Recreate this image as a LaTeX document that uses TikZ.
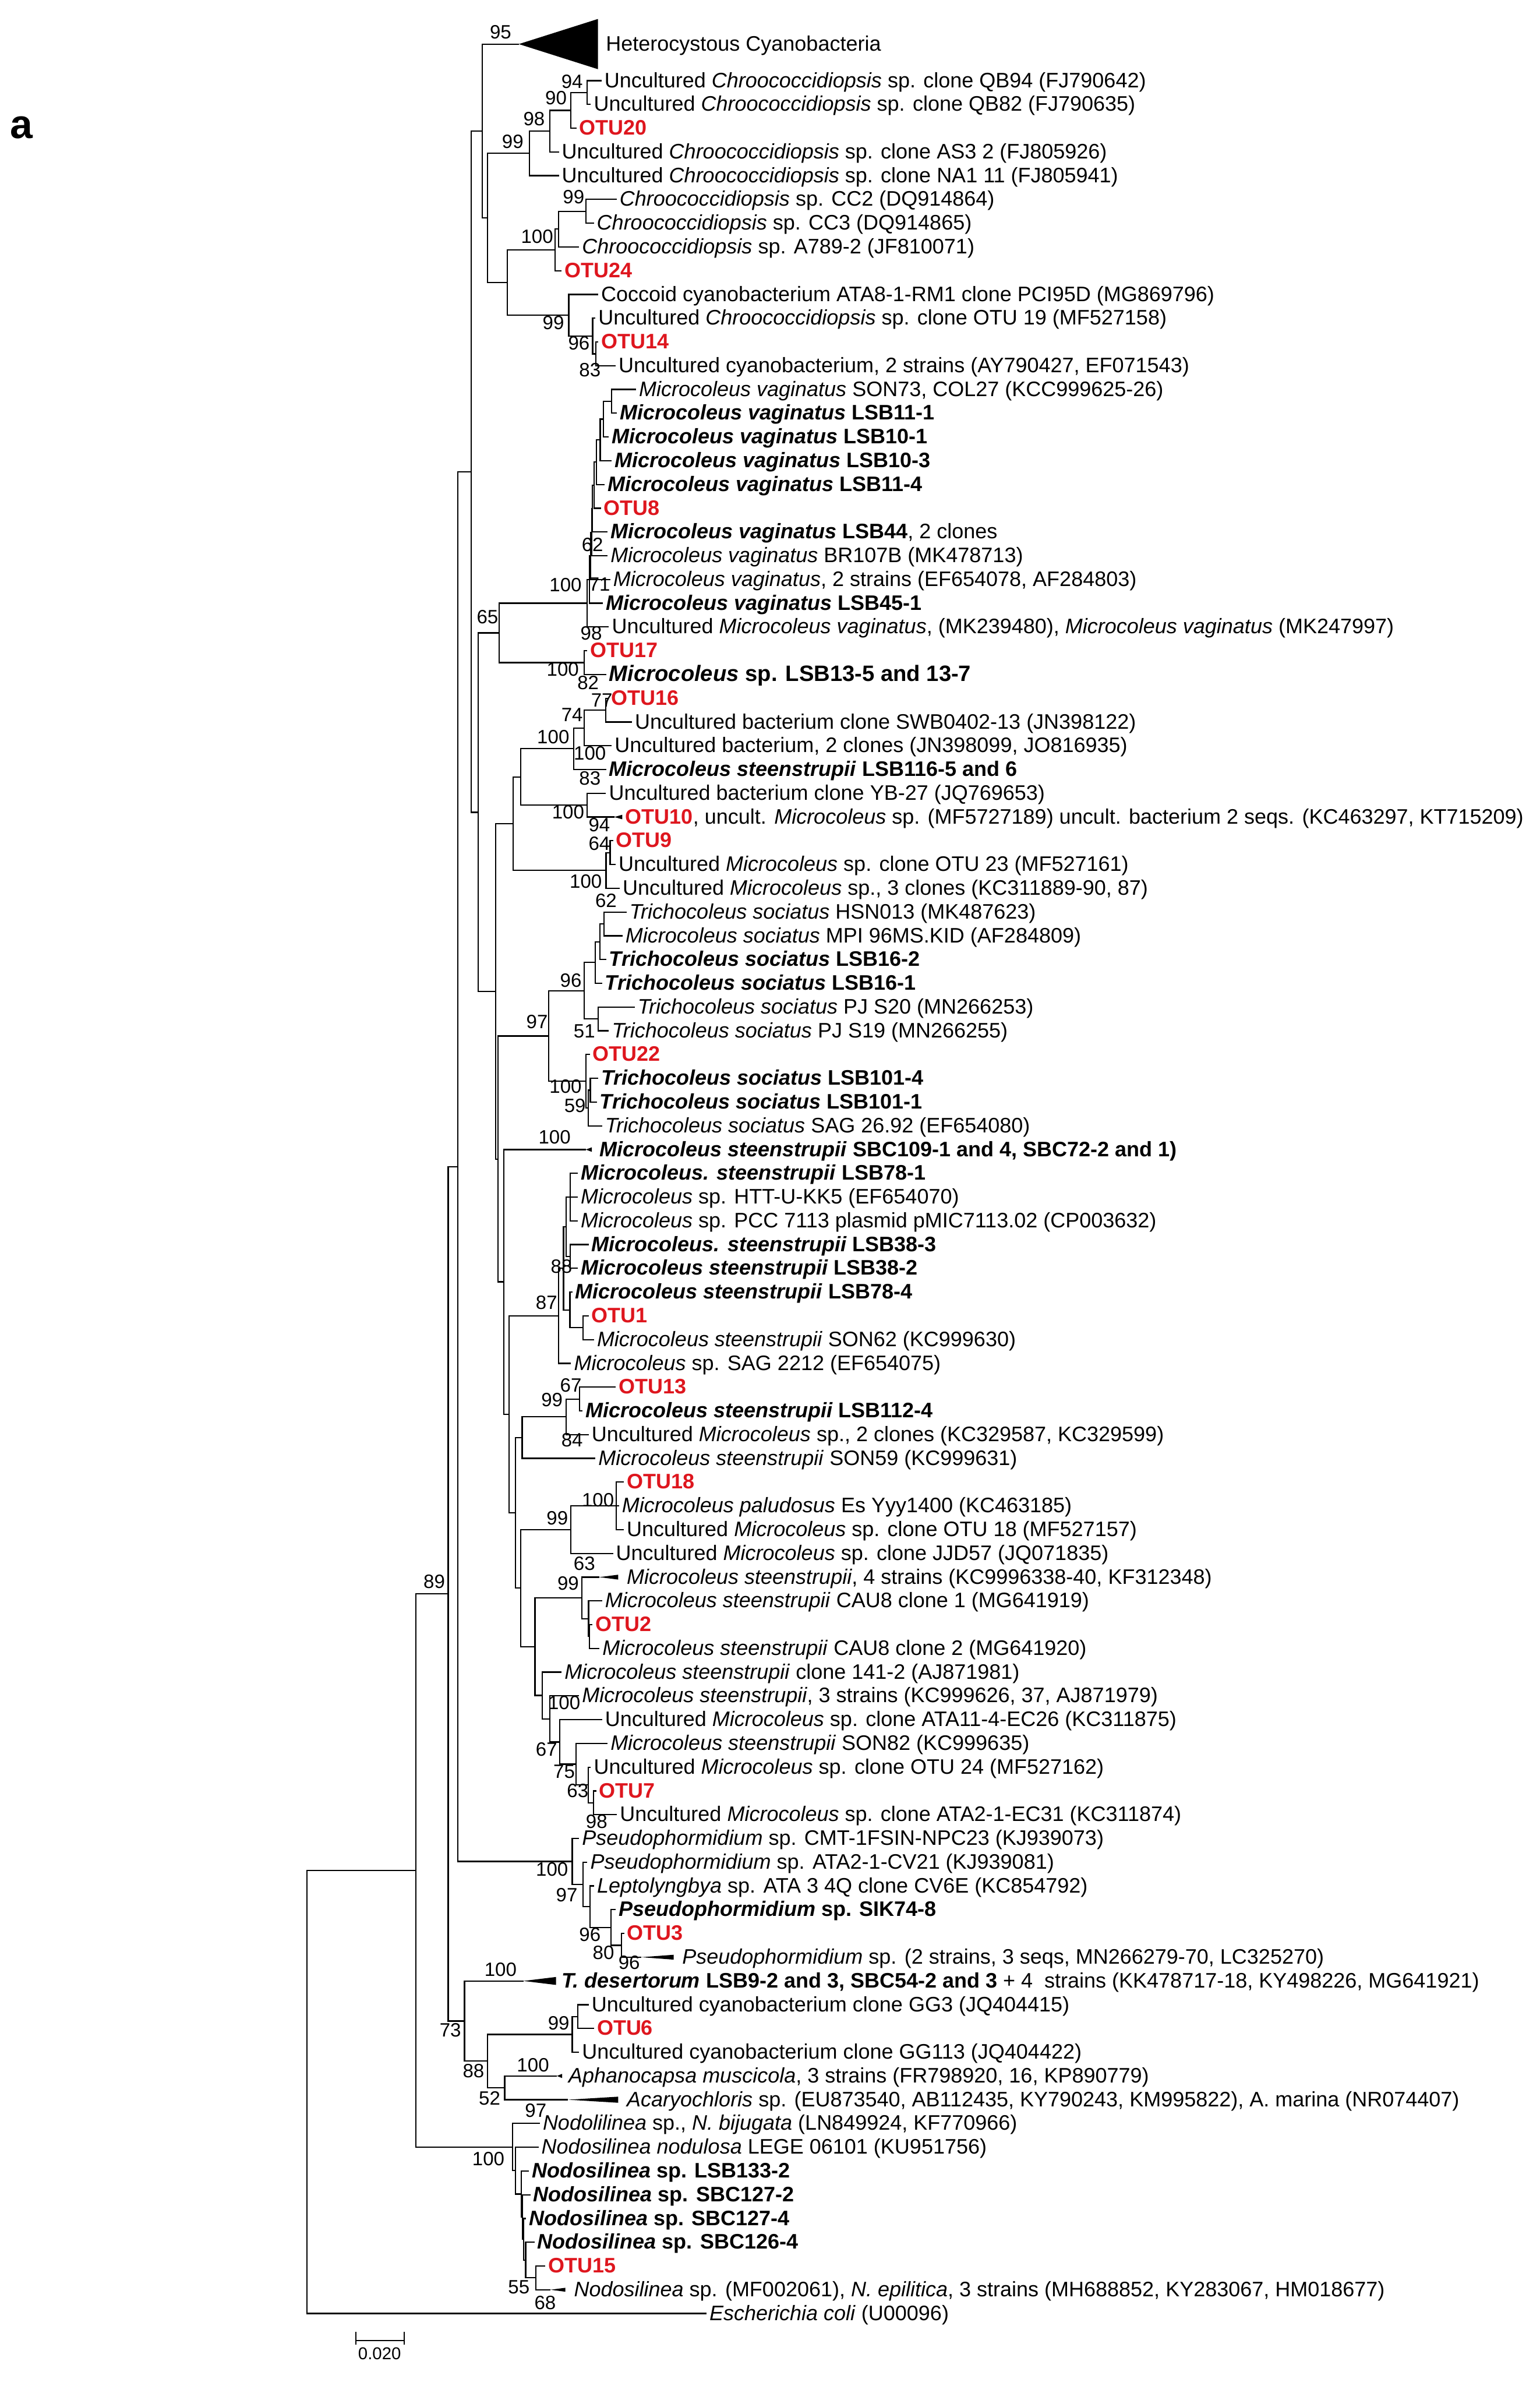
\documentclass[tikz,border=0pt]{standalone}
\usepackage{fontspec}
\setmainfont{Liberation Sans}
\definecolor{otured}{RGB}{222,22,30}
% y position of a leaf row
\newcommand{\ry}[1]{53+15.61*(#1)}

\begin{document}
\begin{tikzpicture}[x=0.025cm, y=-0.025cm,
  br/.style={line width=0.6pt},
  tl/.style={br, shorten >=1.2pt},
  lf/.style={anchor=west, inner sep=0pt, text height=6.8pt, text depth=0.5pt, font=\fontsize{9.8}{11}\selectfont},
  otu/.style={lf, text=otured, font=\fontsize{9.8}{11}\selectfont\bfseries},
  bs/.style={inner sep=0pt, font=\fontsize{9}{10}\selectfont}]
  \useasboundingbox (0,0) rectangle (1012,1568);
  \node[font=\fontsize{19}{20}\selectfont\bfseries] (lbla) at (14,84) {a};

  % internal nodes
  \coordinate (root) at (201.8,{\ry{84.67}});
  \coordinate (V) at (273.3,{\ry{75.35}});
  \coordinate (T) at (294.6,{\ry{63.70}});
  \coordinate (R) at (300.9,{\ry{45.72}});
  \coordinate (P) at (309.7,{\ry{16.46}});
  \coordinate (B) at (317,{\ry{2.12}});
  \coordinate (C) at (320.4,{\ry{5.78}});
  \coordinate (D) at (348,{\ry{3.0625}});
  \coordinate (E) at (361.5,{\ry{2.125}});
  \coordinate (F) at (375.2,{\ry{1.25}});
  \coordinate (G) at (385.9,{\ry{0.5}});
  \coordinate (N) at (333.4,{\ry{8.5}});
  \coordinate (J) at (364.9,{\ry{7.125}});
  \coordinate (I) at (367.2,{\ry{6.25}});
  \coordinate (H) at (385,{\ry{5.5}});
  \coordinate (M) at (373.8,{\ry{9.875}});
  \coordinate (K) at (389.5,{\ry{10.75}});
  \coordinate (L) at (391.5,{\ry{11.5}});
  \coordinate (Q) at (314.4,{\ry{30.80}});
  \coordinate (W) at (328.1,{\ry{23.25}});
  \coordinate (X) at (385.9,{\ry{22.0}});
  \coordinate (L22) at (387.5,{\ry{21.0}});
  \coordinate (L21) at (388.2,{\ry{20.0}});
  \coordinate (L20) at (388.8,{\ry{19.01}});
  \coordinate (L19) at (389.4,{\ry{18.02}});
  \coordinate (L18) at (390.5,{\ry{17.03}});
  \coordinate (L17) at (392,{\ry{16.06}});
  \coordinate (L16) at (394.5,{\ry{15.125}});
  \coordinate (L15) at (396.6,{\ry{14.25}});
  \coordinate (L14) at (401.9,{\ry{13.5}});
  \coordinate (Y) at (384.1,{\ry{24.5}});
  \coordinate (AH) at (325.8,{\ry{38.34}});
  \coordinate (AE) at (337.3,{\ry{31.28}});
  \coordinate (AC) at (342.3,{\ry{29.31}});
  \coordinate (AB) at (377,{\ry{28.125}});
  \coordinate (AA) at (384.1,{\ry{27.25}});
  \coordinate (Z) at (398,{\ry{26.5}});
  \coordinate (AD) at (385.9,{\ry{30.5}});
  \coordinate (AF) at (398.3,{\ry{33.25}});
  \coordinate (AG) at (401,{\ry{32.5}});
  \coordinate (AI) at (327.3,{\ry{45.40}});
  \coordinate (AJ) at (360.6,{\ry{40.22}});
  \coordinate (AL) at (384.1,{\ry{38.31}});
  \coordinate (AN) at (391.2,{\ry{37.125}});
  \coordinate (AP) at (394.2,{\ry{36.25}});
  \coordinate (AQ) at (396.9,{\ry{35.5}});
  \coordinate (AO) at (393,{\ry{39.5}});
  \coordinate (AM) at (385,{\ry{42.125}});
  \coordinate (AR) at (386.5,{\ry{43.25}});
  \coordinate (AS) at (388,{\ry{42.5}});
  \coordinate (AK) at (331.1,{\ry{50.57}});
  \coordinate (AT) at (334.6,{\ry{56.15}});
  \coordinate (AZ) at (367.2,{\ry{52}});
  \coordinate (BE) at (370.4,{\ry{50}});
  \coordinate (BF) at (372.2,{\ry{48.25}});
  \coordinate (BA) at (374.8,{\ry{47}});
  \coordinate (BB) at (374.8,{\ry{49.5}});
  \coordinate (BC) at (374.6,{\ry{51.75}});
  \coordinate (BD) at (383.2,{\ry{52.5}});
  \coordinate (AX) at (338.7,{\ry{60.29}});
  \coordinate (AU) at (343.2,{\ry{57.125}});
  \coordinate (AV) at (372.1,{\ry{56.25}});
  \coordinate (AW) at (381,{\ry{55.5}});
  \coordinate (AY) at (342.3,{\ry{63.46}});
  \coordinate (BG) at (375.2,{\ry{61}});
  \coordinate (BH) at (405,{\ry{60}});
  \coordinate (BL) at (351.6,{\ry{65.93}});
  \coordinate (BK) at (382.3,{\ry{63.875}});
  \coordinate (BI) at (386.8,{\ry{64.75}});
  \coordinate (BJ) at (387.5,{\ry{65.5}});
  \coordinate (BN) at (356.5,{\ry{67.98}});
  \coordinate (BO) at (361.3,{\ry{68.97}});
  \coordinate (BP) at (368,{\ry{69.94}});
  \coordinate (BQ) at (378.7,{\ry{70.875}});
  \coordinate (BR) at (386.5,{\ry{71.75}});
  \coordinate (BS) at (390,{\ry{72.5}});
  \coordinate (S) at (376.1,{\ry{74.97}});
  \coordinate (BT) at (383.2,{\ry{75.94}});
  \coordinate (BU) at (387.7,{\ry{76.875}});
  \coordinate (BV) at (401.5,{\ry{77.75}});
  \coordinate (BW) at (408.5,{\ry{78.5}});
  \coordinate (U) at (305.3,{\ry{81.69}});
  \coordinate (BX) at (320.4,{\ry{83.375}});
  \coordinate (BY) at (376.1,{\ry{82.25}});
  \coordinate (CA) at (379.7,{\ry{81.5}});
  \coordinate (BZ) at (331.7,{\ry{84.5}});
  \coordinate (CB) at (337,{\ry{86.99}});
  \coordinate (CC) at (338.7,{\ry{87.98}});
  \coordinate (CD) at (342.5,{\ry{88.97}});
  \coordinate (CF) at (343.3,{\ry{89.94}});
  \coordinate (CG) at (344,{\ry{90.875}});
  \coordinate (CH) at (345.5,{\ry{91.75}});
  \coordinate (CE) at (352.1,{\ry{92.5}});

  % collapsed clades
  \coordinate (hc) at (341,{\ry{-1.54}});
  \coordinate (w31) at (403.7,{\ry{31}});
  \coordinate (w45) at (385,{\ry{45}});
  \coordinate (w63) at (393.9,{\ry{63}});
  \coordinate (w79) at (421.5,{\ry{79}});
  \coordinate (w80) at (344,{\ry{80}});
  \coordinate (w84) at (366,{\ry{84}});
  \coordinate (w85) at (373.4,{\ry{85}});
  \coordinate (w93) at (361.8,{\ry{93}});
  \fill (hc) -- ++(52,-16.5) -- ++(0,33) -- cycle;
  \fill (w31) -- ++(5.3,-1.5) -- ++(0,3) -- cycle;
  \fill (w45) -- ++(4,-1.5) -- ++(0,3) -- cycle;
  \fill (w63) -- ++(12.4,-1.6) -- ++(0,3.2) -- cycle;
  \fill (w79) -- ++(21.3,-1.6) -- ++(0,3.2) -- cycle;
  \fill (w80) -- ++(21.4,-2.6) -- ++(0,5.2) -- cycle;
  \fill (w84) -- ++(3.5,-1.4) -- ++(0,2.8) -- cycle;
  \fill (w85) -- ++(32.9,-2) -- ++(0,4) -- cycle;
  \fill (w93) -- ++(9.8,-1.3) -- ++(0,2.6) -- cycle;

  % leaves
  \node[lf] (thc) at (398,{\ry{-1.54}}) {Heterocystous Cyanobacteria};
  \node[lf] (t00) at (397,{\ry{0}}) {Uncultured \textit{Chroococcidiopsis} sp. clone QB94 (FJ790642)};
  \node[lf] (t01) at (390,{\ry{1}}) {Uncultured \textit{Chroococcidiopsis} sp. clone QB82 (FJ790635)};
  \node[otu] (t02) at (380.5,{\ry{2}}) {OTU20};
  \node[lf] (t03) at (369,{\ry{3}}) {Uncultured \textit{Chroococcidiopsis} sp. clone AS3 2 (FJ805926)};
  \node[lf] (t04) at (369,{\ry{4}}) {Uncultured \textit{Chroococcidiopsis} sp. clone NA1 11 (FJ805941)};
  \node[lf] (t05) at (407,{\ry{5}}) {\textit{Chroococcidiopsis} sp. CC2 (DQ914864)};
  \node[lf] (t06) at (392,{\ry{6}}) {\textit{Chroococcidiopsis} sp. CC3 (DQ914865)};
  \node[lf] (t07) at (382.3,{\ry{7}}) {\textit{Chroococcidiopsis} sp. A789-2 (JF810071)};
  \node[otu] (t08) at (370.8,{\ry{8}}) {OTU24};
  \node[lf] (t09) at (394.8,{\ry{9}}) {Coccoid cyanobacterium ATA8-1-RM1 clone PCI95D (MG869796)};
  \node[lf] (t10) at (393,{\ry{10}}) {Uncultured \textit{Chroococcidiopsis} sp. clone OTU 19 (MF527158)};
  \node[otu] (t11) at (395,{\ry{11}}) {OTU14};
  \node[lf] (t12) at (406.3,{\ry{12}}) {Uncultured cyanobacterium, 2 strains (AY790427, EF071543)};
  \node[lf] (t13) at (419.7,{\ry{13}}) {\textit{Microcoleus vaginatus} SON73, COL27 (KCC999625-26)};
  \node[lf] (t14) at (407.2,{\ry{14}}) {\textbf{\textit{Microcoleus vaginatus} LSB11-1}};
  \node[lf] (t15) at (401.9,{\ry{15}}) {\textbf{\textit{Microcoleus vaginatus} LSB10-1}};
  \node[lf] (t16) at (403.7,{\ry{16}}) {\textbf{\textit{Microcoleus vaginatus} LSB10-3}};
  \node[lf] (t17) at (399.2,{\ry{17}}) {\textbf{\textit{Microcoleus vaginatus} LSB11-4}};
  \node[otu] (t18) at (396.6,{\ry{18}}) {OTU8};
  \node[lf] (t19) at (401,{\ry{19}}) {\textbf{\textit{Microcoleus vaginatus} LSB44}, 2 clones};
  \node[lf] (t20) at (401,{\ry{20}}) {\textit{Microcoleus vaginatus} BR107B (MK478713)};
  \node[lf] (t21) at (402.8,{\ry{21}}) {\textit{Microcoleus vaginatus}, 2 strains (EF654078, AF284803)};
  \node[lf] (t22) at (398,{\ry{22}}) {\textbf{\textit{Microcoleus vaginatus} LSB45-1}};
  \node[lf] (t23) at (401.9,{\ry{23}}) {Uncultured \textit{Microcoleus vaginatus}, (MK239480), \textit{Microcoleus vaginatus} (MK247997)};
  \node[otu] (t24) at (387.7,{\ry{24}}) {OTU17};
  \node[lf, font=\fontsize{10.4}{12}\selectfont] (t25) at (400.1,{\ry{25}}) {\textbf{\textit{Microcoleus} sp. LSB13-5 and 13-7}};
  \node[otu] (t26) at (401.5,{\ry{26}}) {OTU16};
  \node[lf] (t27) at (417,{\ry{27}}) {Uncultured bacterium clone SWB0402-13 (JN398122)};
  \node[lf] (t28) at (403.7,{\ry{28}}) {Uncultured bacterium, 2 clones (JN398099, JO816935)};
  \node[lf] (t29) at (400.1,{\ry{29}}) {\textbf{\textit{Microcoleus steenstrupii} LSB116-5 and 6}};
  \node[lf] (t30) at (400,{\ry{30}}) {Uncultured bacterium clone YB-27 (JQ769653)};
  \node[lf] (t31) at (410.8,{\ry{31}}) {\textcolor{otured}{\bfseries OTU10}, uncult. \textit{Microcoleus} sp. (MF5727189) uncult. bacterium 2 seqs. (KC463297, KT715209)};
  \node[otu] (t32) at (404.6,{\ry{32}}) {OTU9};
  \node[lf] (t33) at (406.3,{\ry{33}}) {Uncultured \textit{Microcoleus} sp. clone OTU 23 (MF527161)};
  \node[lf] (t34) at (409,{\ry{34}}) {Uncultured \textit{Microcoleus} sp., 3 clones (KC311889-90, 87)};
  \node[lf] (t35) at (413.5,{\ry{35}}) {\textit{Trichocoleus sociatus} HSN013 (MK487623)};
  \node[lf] (t36) at (410.8,{\ry{36}}) {\textit{Microcoleus sociatus} MPI 96MS.KID (AF284809)};
  \node[lf] (t37) at (400.1,{\ry{37}}) {\textbf{\textit{Trichocoleus sociatus} LSB16-2}};
  \node[lf] (t38) at (397.4,{\ry{38}}) {\textbf{\textit{Trichocoleus sociatus} LSB16-1}};
  \node[lf] (t39) at (418.8,{\ry{39}}) {\textit{Trichocoleus sociatus} PJ S20 (MN266253)};
  \node[lf] (t40) at (401.9,{\ry{40}}) {\textit{Trichocoleus sociatus} PJ S19 (MN266255)};
  \node[otu] (t41) at (389.4,{\ry{41}}) {OTU22};
  \node[lf] (t42) at (394.8,{\ry{42}}) {\textbf{\textit{Trichocoleus sociatus} LSB101-4}};
  \node[lf] (t43) at (393.9,{\ry{43}}) {\textbf{\textit{Trichocoleus sociatus} LSB101-1}};
  \node[lf] (t44) at (397.4,{\ry{44}}) {\textit{Trichocoleus sociatus} SAG 26.92 (EF654080)};
  \node[lf] (t45) at (393.9,{\ry{45}}) {\textbf{\textit{Microcoleus steenstrupii} SBC109-1 and 4, SBC72-2 and 1)}};
  \node[lf] (t46) at (381.4,{\ry{46}}) {\textbf{\textit{Microcoleus. steenstrupii} LSB78-1}};
  \node[lf] (t47) at (381.4,{\ry{47}}) {\textit{Microcoleus} sp. HTT-U-KK5 (EF654070)};
  \node[lf] (t48) at (381.4,{\ry{48}}) {\textit{Microcoleus} sp. PCC 7113 plasmid pMIC7113.02 (CP003632)};
  \node[lf] (t49) at (388.6,{\ry{49}}) {\textbf{\textit{Microcoleus. steenstrupii} LSB38-3}};
  \node[lf] (t50) at (381.4,{\ry{50}}) {\textbf{\textit{Microcoleus steenstrupii} LSB38-2}};
  \node[lf] (t51) at (377.9,{\ry{51}}) {\textbf{\textit{Microcoleus steenstrupii} LSB78-4}};
  \node[otu] (t52) at (388.6,{\ry{52}}) {OTU1};
  \node[lf] (t53) at (392.1,{\ry{53}}) {\textit{Microcoleus steenstrupii} SON62 (KC999630)};
  \node[lf] (t54) at (377,{\ry{54}}) {\textit{Microcoleus} sp. SAG 2212 (EF654075)};
  \node[otu] (t55) at (406.3,{\ry{55}}) {OTU13};
  \node[lf] (t56) at (384.5,{\ry{56}}) {\textbf{\textit{Microcoleus steenstrupii} LSB112-4}};
  \node[lf] (t57) at (388.6,{\ry{57}}) {Uncultured \textit{Microcoleus} sp., 2 clones (KC329587, KC329599)};
  \node[lf] (t58) at (393,{\ry{58}}) {\textit{Microcoleus steenstrupii} SON59 (KC999631)};
  \node[otu] (t59) at (411.7,{\ry{59}}) {OTU18};
  \node[lf] (t60) at (408.5,{\ry{60}}) {\textit{Microcoleus paludosus} Es Yyy1400 (KC463185)};
  \node[lf] (t61) at (411.7,{\ry{61}}) {Uncultured \textit{Microcoleus} sp. clone OTU 18 (MF527157)};
  \node[lf] (t62) at (404.6,{\ry{62}}) {Uncultured \textit{Microcoleus} sp. clone JJD57 (JQ071835)};
  \node[lf] (t63) at (411.7,{\ry{63}}) {\textit{Microcoleus steenstrupii}, 4 strains (KC9996338-40, KF312348)};
  \node[lf] (t64) at (397.4,{\ry{64}}) {\textit{Microcoleus steenstrupii} CAU8 clone 1 (MG641919)};
  \node[otu] (t65) at (391,{\ry{65}}) {OTU2};
  \node[lf] (t66) at (395.7,{\ry{66}}) {\textit{Microcoleus steenstrupii} CAU8 clone 2 (MG641920)};
  \node[lf] (t67) at (370.8,{\ry{67}}) {\textit{Microcoleus steenstrupii} clone 141-2 (AJ871981)};
  \node[lf] (t68) at (382.3,{\ry{68}}) {\textit{Microcoleus steenstrupii}, 3 strains (KC999626, 37, AJ871979)};
  \node[lf] (t69) at (397.4,{\ry{69}}) {Uncultured \textit{Microcoleus} sp. clone ATA11-4-EC26 (KC311875)};
  \node[lf] (t70) at (401,{\ry{70}}) {\textit{Microcoleus steenstrupii} SON82 (KC999635)};
  \node[lf] (t71) at (390,{\ry{71}}) {Uncultured \textit{Microcoleus} sp. clone OTU 24 (MF527162)};
  \node[otu] (t72) at (393.5,{\ry{72}}) {OTU7};
  \node[lf] (t73) at (407.2,{\ry{73}}) {Uncultured \textit{Microcoleus} sp. clone ATA2-1-EC31 (KC311874)};
  \node[lf] (t74) at (382.3,{\ry{74}}) {\textit{Pseudophormidium} sp. CMT-1FSIN-NPC23 (KJ939073)};
  \node[lf] (t75) at (387.7,{\ry{75}}) {\textit{Pseudophormidium} sp. ATA2-1-CV21 (KJ939081)};
  \node[lf] (t76) at (392.1,{\ry{76}}) {\textit{Leptolyngbya} sp. ATA 3 4Q clone CV6E (KC854792)};
  \node[lf] (t77) at (406.3,{\ry{77}}) {\textbf{\textit{Pseudophormidium} sp. SIK74-8}};
  \node[otu] (t78) at (412,{\ry{78}}) {OTU3};
  \node[lf] (t79) at (448.1,{\ry{79}}) {\textit{Pseudophormidium} sp. (2 strains, 3 seqs, MN266279-70, LC325270)};
  \node[lf] (t80) at (369,{\ry{80}}) {\textbf{\textit{T. desertorum} LSB9-2 and 3, SBC54-2 and 3} + 4\ \ strains (KK478717-18, KY498226, MG641921)};
  \node[lf] (t81) at (388.6,{\ry{81}}) {Uncultured cyanobacterium clone GG3 (JQ404415)};
  \node[otu] (t82) at (392.1,{\ry{82}}) {OTU6};
  \node[lf] (t83) at (382.3,{\ry{83}}) {Uncultured cyanobacterium clone GG113 (JQ404422)};
  \node[lf] (t84) at (373.4,{\ry{84}}) {\textit{Aphanocapsa muscicola}, 3 strains (FR798920, 16, KP890779)};
  \node[lf] (t85) at (411.7,{\ry{85}}) {\textit{Acaryochloris} sp. (EU873540, AB112435, KY790243, KM995822), A. marina (NR074407)};
  \node[lf] (t86) at (356.5,{\ry{86}}) {\textit{Nodolilinea} sp., \textit{N. bijugata} (LN849924, KF770966)};
  \node[lf] (t87) at (355.6,{\ry{87}}) {\textit{Nodosilinea nodulosa} LEGE 06101 (KU951756)};
  \node[lf] (t88) at (349.4,{\ry{88}}) {\textbf{\textit{Nodosilinea} sp. LSB133-2}};
  \node[lf] (t89) at (350.3,{\ry{89}}) {\textbf{\textit{Nodosilinea} sp. SBC127-2}};
  \node[lf] (t90) at (347.5,{\ry{90}}) {\textbf{\textit{Nodosilinea} sp. SBC127-4}};
  \node[lf] (t91) at (353,{\ry{91}}) {\textbf{\textit{Nodosilinea} sp. SBC126-4}};
  \node[otu] (t92) at (360.1,{\ry{92}}) {OTU15};
  \node[lf] (t93) at (377,{\ry{93}}) {\textit{Nodosilinea} sp. (MF002061), \textit{N. epilitica}, 3 strains (MH688852, KY283067, HM018677)};
  \node[lf] (t94) at (466,{\ry{94}}) {\textit{Escherichia coli} (U00096)};

  % branches between nodes
  \foreach \p/\c in {B/hc, B/C, C/D, C/N, D/E, E/F, F/G, N/J, N/M, J/I, I/H, M/K, K/L,
      P/B, P/Q, Q/W, Q/AH, W/X, W/Y, X/L22, L22/L21, L21/L20, L20/L19, L19/L18,
      L18/L17, L17/L16, L16/L15, L15/L14, AH/AE, AH/AI, AE/AC, AE/AF, AC/AB, AC/AD,
      AB/AA, AA/Z, AD/w31, AF/AG, AI/AJ, AI/AK, AJ/AL, AJ/AM, AL/AN, AL/AO, AN/AP,
      AP/AQ, AM/AR, AR/AS, AK/w45, AK/AT, AT/AZ, AT/AX, AZ/BE, BE/BF, BE/BC, BF/BA,
      BF/BB, BC/BD, AX/AU, AX/AY, AU/AV, AV/AW, AY/BG, AY/BL, BG/BH, BL/BK, BL/BN,
      BK/w63, BK/BI, BI/BJ, BN/BO, BO/BP, BP/BQ, BQ/BR, BR/BS, R/P, R/S, S/BT,
      BT/BU, BU/BV, BV/BW, BW/w79, T/R, T/U, U/w80, U/BX, BX/BY, BX/BZ, BY/CA,
      BZ/w84, BZ/w85, V/T, V/CB, CB/CC, CC/CD, CD/CF, CF/CG, CG/CH, CH/CE, CE/w93, root/V}
    \draw[br] (\p) |- (\c);
  % branches to the leaf labels
  \foreach \p/\c in {G/t00, G/t01, F/t02, E/t03, D/t04, H/t05, H/t06, I/t07, J/t08, M/t09,
      K/t10, L/t11, L/t12, L14/t13, L14/t14, L15/t15, L16/t16, L17/t17, L18/t18, L19/t19,
      L20/t20, L21/t21, L22/t22, X/t23, Y/t24, Y/t25, Z/t26, Z/t27, AA/t28, AB/t29,
      AD/t30, AG/t32, AG/t33, AF/t34, AQ/t35, AQ/t36, AP/t37, AN/t38, AO/t39, AO/t40,
      AM/t41, AS/t42, AS/t43, AR/t44, BA/t46, BA/t47, BA/t48, BB/t49, BB/t50, BC/t51,
      BD/t52, BD/t53, AZ/t54, AW/t55, AW/t56, AV/t57, AU/t58, BH/t59, BH/t60, BH/t61,
      BG/t62, BI/t64, BJ/t65, BJ/t66, BN/t67, BO/t68, BP/t69, BQ/t70, BR/t71, BS/t72,
      BS/t73, S/t74, BT/t75, BU/t76, BV/t77, BW/t78, CA/t81, CA/t82, BY/t83, CB/t86,
      CC/t87, CD/t88, CF/t89, CG/t90, CH/t91, CE/t92, root/t94}
    \draw[tl] (\p) |- (\c.west);

  % bootstrap values
  \foreach \x/\y/\v [count=\i] in {329/21/95, 376/53.5/94, 365.4/64.2/90, 351/78/98, 337/93/99,
      377/129.5/99, 353/155.3/100, 363.7/212/99, 380.5/225.5/96, 387.7/243.2/83, 389.4/358/62,
      371.7/384.5/100, 394/384/71, 320.4/405.4/65, 388.6/416/98, 369.9/439.8/100, 386.5/448.5/82,
      395.5/460/77, 376/469.6/74, 363.6/484.4/100, 387.7/495.1/100, 387.7/511.4/83,
      373.4/533.7/100, 393.9/542.1/94, 393.9/554.2/64, 385/579.3/100, 398.3/591.8/62,
      375.2/644.4/96, 353/671.3/97, 384.1/677.8/51, 371.7/714.1/100, 377.9/726.6/59,
      364.5/747.1/100, 369/832.2/88, 359.2/855.9/87, 375.2/910.3/67, 362.8/920/99,
      376/946.5/84, 393/985.6/100, 366.3/997.7/99, 384.1/1027.4/63, 373.4/1040.5/99,
      285.4/1039.5/89, 370.8/1119/100, 359.2/1149.7/67, 370.8/1164.1/75, 379.7/1176.7/63,
      392.1/1197.1/98, 362.8/1228.3/100, 372.5/1245.5/97, 387.7/1271.5/96, 396.6/1283.1/80,
      413.5/1289.6/96, 329/1294.3/100, 296/1334.3/73, 367.2/1329.6/99, 311.2/1360.8/88,
      350.3/1357/100, 321.8/1378.9/52, 352.1/1386.8/97, 321/1418.9/100, 341/1503/55,
      358.3/1513.2/68}
    \node[bs] (bs\i) at (\x,\y) {\v};

  % scale bar
  \coordinate (sb1) at (233.8,1538);
  \coordinate (sb2) at (265.8,1538);
  \draw[br] (sb1) -- (sb2);
  \draw[br] ([yshift=-2]sb1) -- ([yshift=4]sb1);
  \draw[br] ([yshift=-2]sb2) -- ([yshift=4]sb2);
  \node[bs, font=\fontsize{8}{9}\selectfont] (sbl) at (249.5,1546.5) {0.020};
\end{tikzpicture}
\end{document}
